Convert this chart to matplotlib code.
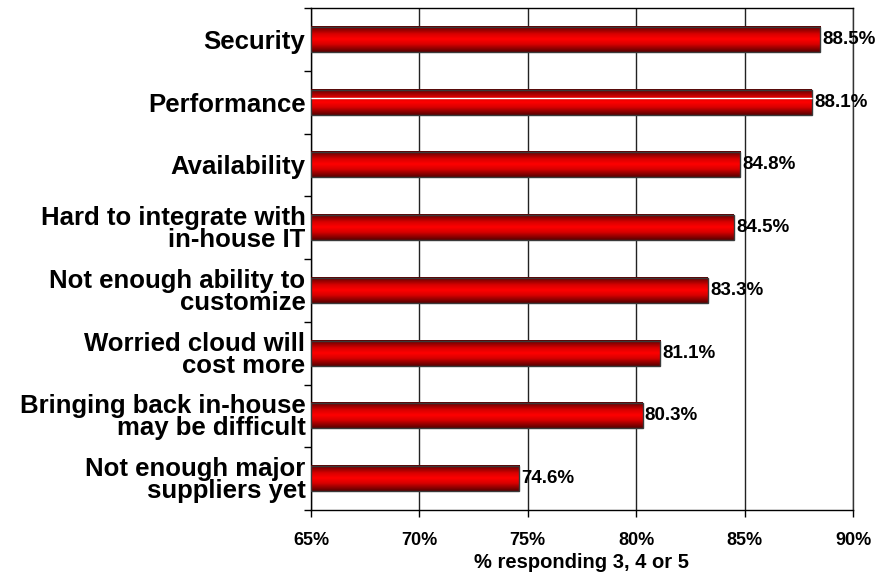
import matplotlib
matplotlib.use("Agg")
import matplotlib.pyplot as plt
import numpy as np
from matplotlib.colors import LinearSegmentedColormap

categories = [
    "Security",
    "Performance",
    "Availability",
    "Hard to integrate with\nin-house IT",
    "Not enough ability to\ncustomize",
    "Worried cloud will\ncost more",
    "Bringing back in-house\nmay be difficult",
    "Not enough major\nsuppliers yet",
]
values = [88.5, 88.1, 84.8, 84.5, 83.3, 81.1, 80.3, 74.6]
value_labels = ["88.5%", "88.1%", "84.8%", "84.5%", "83.3%", "81.1%", "80.3%", "74.6%"]
xticks = [65, 70, 75, 80, 85, 90]
xtick_labels = ["65%", "70%", "75%", "80%", "85%", "90%"]
xlabel = "% responding 3, 4 or 5"

plt.rcParams['font.family'] = ['Liberation Sans', 'DejaVu Sans']
plt.rcParams['font.weight'] = 'bold'

fig = plt.figure(figsize=(8.89, 5.77), dpi=100)
ax = fig.add_axes([311/889, 1 - 510/577, (853-311)/889, (510-8)/577])

xmin, xmax = 65, 90
n = len(categories)
ypos = np.arange(n)
bh = 0.4

cmap = LinearSegmentedColormap.from_list(
    "redgrad", [(0.0, "#5a0000"), (0.3, "#d80000"), (0.5, "#ff0000"), (0.7, "#d80000"), (1.0, "#5a0000")])
grad = np.linspace(0, 1, 64).reshape(-1, 1)

for i, v in enumerate(values):
    ax.imshow(grad, cmap=cmap, aspect='auto',
              extent=(xmin, v, i + bh/2, i - bh/2), zorder=3, interpolation='bilinear')
bars = ax.barh(ypos, [v - xmin for v in values], left=xmin, height=bh,
               facecolor='none', edgecolor='#3a3a3a', linewidth=1.0, zorder=4)
# Performance bar has a white highlight line in the source image
ax.hlines(1 - 0.07, xmin, values[1], colors='white', linewidth=1.0, zorder=5)

for i, (v, lab) in enumerate(zip(values, value_labels)):
    ax.text(v + 0.1, i, lab, va='center', ha='left', fontsize=13.5,
            fontweight='bold', zorder=6)

ax.set_xlim(xmin, xmax)
ax.set_ylim(n - 0.5, -0.5)
ax.set_xticks(xticks)
ax.set_xticklabels(xtick_labels, fontsize=13, fontweight='bold')
ax.xaxis.grid(True, color='#222222', linewidth=1.0, zorder=0)
ax.set_axisbelow(True)

ax.set_yticks(ypos)
ax.set_yticklabels(categories, fontsize=18.5, fontweight='bold', linespacing=0.9)
ax.tick_params(axis='y', length=0, pad=4)
ax.set_yticks(np.arange(-0.5, n, 1.0), minor=True)
ax.tick_params(axis='y', which='minor', length=5, width=1, direction='out')
ax.tick_params(axis='x', length=5, width=1, direction='out', pad=11)

for s in ax.spines.values():
    s.set_color('black')
    s.set_linewidth(1.0)
ax.spines['right'].set_color('#333333')

ax.set_xlabel(xlabel, fontsize=14.5, fontweight='bold', labelpad=3)

fig.savefig("out.png", dpi=100)
